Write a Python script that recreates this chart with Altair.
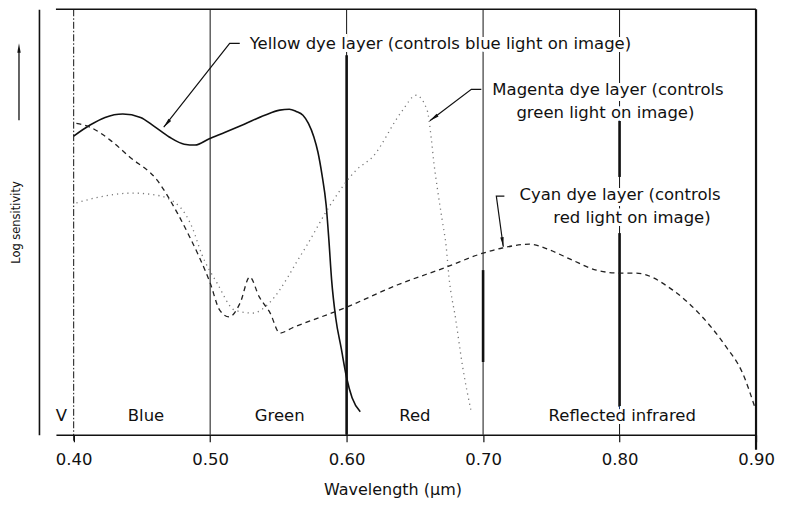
import altair as alt
import pandas as pd

FONT = "DejaVu Sans"
INK = "#111111"

# ---------------- data ----------------
tick_values = [0.40, 0.50, 0.60, 0.70, 0.80, 0.90]
boundaries = [0.50, 0.60, 0.70, 0.80]
violet_edge = [0.40]

band_labels = ["V", "Blue", "Green", "Red", "Reflected infrared"]
band_x = [0.391, 0.453, 0.551, 0.650, 0.802]
band_y = [4.5, 4.5, 4.5, 4.5, 4.5]

yellow_x = [0.400, 0.412, 0.423, 0.436, 0.449, 0.459, 0.470, 0.481, 0.489, 0.499,
            0.511, 0.525, 0.540, 0.551, 0.558, 0.563, 0.568, 0.572, 0.576, 0.579,
            0.582, 0.585, 0.587, 0.589, 0.592, 0.596, 0.600, 0.604, 0.610]
yellow_y = [70.2, 72.8, 74.6, 75.4, 74.6, 72.5, 70.0, 68.3, 68.1, 69.5,
            71.1, 73.0, 75.1, 76.3, 76.5, 76.0, 75.1, 73.2, 70.0, 66.4,
            61.0, 54.0, 45.8, 36.4, 27.5, 20.4, 13.4, 8.7, 5.4]

magenta_x = [0.402, 0.419, 0.443, 0.461, 0.478, 0.487, 0.494, 0.505, 0.518, 0.531,
             0.544, 0.557, 0.563, 0.571, 0.588, 0.607, 0.619, 0.640, 0.651, 0.659,
             0.662, 0.664, 0.667, 0.670, 0.673, 0.675, 0.680, 0.685, 0.691]
magenta_y = [54.5, 55.9, 56.8, 56.3, 53.5, 48.6, 42.3, 35.7, 29.3, 28.6,
             31.2, 37.1, 40.4, 44.6, 54.0, 62.2, 65.3, 75.8, 79.8, 76.3,
             69.7, 63.8, 56.8, 50.5, 44.1, 37.1, 27.0, 16.0, 5.9]

cyan_x = [0.402, 0.412, 0.427, 0.441, 0.461, 0.476, 0.485, 0.492, 0.500, 0.507,
          0.514, 0.522, 0.529, 0.536, 0.544, 0.551, 0.560, 0.600, 0.637, 0.673,
          0.700, 0.714, 0.734, 0.749, 0.765, 0.783, 0.800, 0.812, 0.839, 0.858,
          0.878, 0.890, 0.899]
cyan_y = [73.2, 72.3, 69.2, 65.3, 59.9, 52.1, 46.5, 41.8, 35.7, 29.3,
          27.7, 31.0, 37.1, 32.4, 28.6, 23.9, 25.1, 30.0, 35.2, 39.4,
          42.7, 43.9, 44.8, 43.4, 41.1, 38.7, 38.0, 38.0, 34.0, 28.6,
          20.7, 14.6, 6.6]

# annotation texts
note_text = ["Yellow dye layer (controls blue light on image)",
             "Magenta dye layer (controls", "green light on image)",
             "Cyan dye layer (controls", "red light on image)"]
note_x = [0.5290, 0.7068, 0.7244, 0.7266, 0.7514]
note_y = [91.8, 81.0, 75.6, 56.3, 50.9]

# leader lines (three points each) and arrow tips
leader_id = ["Y", "Y", "Y", "M", "M", "M", "C", "C", "C"]
leader_seq = [0, 1, 2, 0, 1, 2, 0, 1, 2]
leader_x = [0.5217, 0.5143, 0.4660, 0.6987, 0.6914, 0.6610, 0.7156, 0.7097, 0.7148]
leader_y = [92.0, 92.0, 72.3, 81.2, 81.2, 73.8, 56.1, 56.1, 44.2]
tip_x = [0.4660, 0.6610, 0.7148]
tip_y = [72.3, 73.8, 44.2]
tip_angle = [220, 234, 172]

# thicker pieces of the region boundary lines
thick_x = [0.60, 0.70, 0.80, 0.80]
thick_y1 = [89.2, 38.7, 73.9, 47.4]
thick_y2 = [0.0, 17.1, 60.6, 6.6]

# ---------------- scales / axes ----------------
x_scale = alt.Scale(domain=[0.387, 0.90], nice=False, zero=False)
y_scale = alt.Scale(domain=[0, 100], nice=False, zero=False)

x_axis = alt.Axis(values=tick_values, format=".2f", grid=False, labelFlush=False,
                  domainColor=INK, domainWidth=1.6, tickColor=INK, tickSize=7,
                  tickWidth=1.2, labelFont=FONT, labelFontSize=16.5, labelColor=INK,
                  labelPadding=10, title="Wavelength (μm)", titleFont=FONT,
                  titleFontSize=16, titleFontWeight="normal", titleColor=INK,
                  titleX=337, titleY=55, titleBaseline="middle", titleAlign="center")
y_axis = alt.Axis(offset=17, domain=True, domainColor=INK, domainWidth=1.6,
                  ticks=False, labels=False, grid=False, title="Log sensitivity",
                  titleFont=FONT, titleFontSize=11.5, titleFontWeight="normal",
                  titleColor=INK, titleX=-22, titleY=213, titleAngle=270,
                  titleBaseline="middle", titleAlign="center")


def X(field="x"):
    return alt.X(f"{field}:Q", scale=x_scale, axis=x_axis)


def Y(field="y"):
    return alt.Y(f"{field}:Q", scale=y_scale, axis=y_axis)


# ---------------- layers ----------------
frame_top = alt.Chart(pd.DataFrame({"x": [0.387], "x2": [0.90], "y": [100]})).mark_rule(
    color=INK, strokeWidth=1.6).encode(x=X(), x2="x2:Q", y=Y())
frame_right = alt.Chart(pd.DataFrame({"x": [0.90], "y": [100], "y2": [-3.5]})).mark_rule(
    color=INK, strokeWidth=2.2).encode(x=X(), y=Y(), y2="y2:Q")

edge40 = alt.Chart(pd.DataFrame({"x": violet_edge, "y": [100] * len(violet_edge),
                                 "y2": [-1.5] * len(violet_edge)})).mark_rule(
    color=INK, strokeWidth=1, strokeDash=[7, 2, 1.5, 2]).encode(x=X(), y=Y(), y2="y2:Q")
thin_lines = alt.Chart(pd.DataFrame({"x": boundaries, "y": [100] * len(boundaries),
                                     "y2": [0] * len(boundaries)})).mark_rule(
    color=INK, strokeWidth=1).encode(x=X(), y=Y(), y2="y2:Q")
thick_lines = alt.Chart(pd.DataFrame({"x": thick_x, "y": thick_y1, "y2": thick_y2})).mark_rule(
    color=INK, strokeWidth=2.6).encode(x=X(), y=Y(), y2="y2:Q")

notes_df = pd.DataFrame({"t": note_text, "x": note_x, "y": note_y})
notes_halo = alt.Chart(notes_df).mark_text(
    align="left", baseline="middle", font=FONT, fontSize=16.5, color="white",
    stroke="white", strokeWidth=6).encode(x=X(), y=Y(), text="t:N")
notes = alt.Chart(notes_df).mark_text(
    align="left", baseline="middle", font=FONT, fontSize=16.5, color=INK).encode(
    x=X(), y=Y(), text="t:N")

bands_df = pd.DataFrame({"t": band_labels, "x": band_x, "y": band_y})
bands_halo = alt.Chart(bands_df).mark_text(
    align="center", baseline="middle", font=FONT, fontSize=16.5, color="white",
    stroke="white", strokeWidth=6).encode(x=X(), y=Y(), text="t:N")
bands = alt.Chart(bands_df).mark_text(
    align="center", baseline="middle", font=FONT, fontSize=16.5, color=INK).encode(
    x=X(), y=Y(), text="t:N")

yellow = alt.Chart(pd.DataFrame({"x": yellow_x, "y": yellow_y})).mark_line(
    interpolate="monotone", color=INK, strokeWidth=1.6).encode(x=X(), y=Y())
magenta = alt.Chart(pd.DataFrame({"x": magenta_x, "y": magenta_y})).mark_line(
    interpolate="monotone", color="#777777", strokeWidth=1.3,
    strokeDash=[1.2, 4]).encode(x=X(), y=Y())
cyan = alt.Chart(pd.DataFrame({"x": cyan_x, "y": cyan_y})).mark_line(
    interpolate="monotone", color="#222222", strokeWidth=1.3,
    strokeDash=[5, 4]).encode(x=X(), y=Y())

leaders = alt.Chart(pd.DataFrame({"id": leader_id, "seq": leader_seq,
                                  "x": leader_x, "y": leader_y})).mark_line(
    color=INK, strokeWidth=1.2).encode(x=X(), y=Y(), detail="id:N", order="seq:Q")

ARROW = "M0,0L0.34,1.9L-0.34,1.9Z"
tips = alt.Chart(pd.DataFrame({"x": tip_x, "y": tip_y, "a": tip_angle})).mark_point(
    shape=ARROW, filled=True, size=100, color=INK, opacity=1).encode(
    x=X(), y=Y(), angle=alt.Angle("a:Q", scale=None))

# upward arrow beside the y-axis title
up_line = alt.Chart(pd.DataFrame({"y": [90.4], "y2": [73.9]})).mark_rule(
    color=INK, strokeWidth=1.3).encode(x=alt.value(-37), y=Y(), y2="y2:Q")
up_tip = alt.Chart(pd.DataFrame({"y": [92.0], "a": [0]})).mark_point(
    shape=ARROW, filled=True, size=100, color=INK, opacity=1).encode(
    x=alt.value(-37), y=Y(), angle=alt.Angle("a:Q", scale=None))

chart = alt.layer(
    yellow, edge40, thin_lines, thick_lines, frame_top, frame_right,
    notes_halo, bands_halo, notes, bands,
    magenta, cyan, leaders, tips, up_line, up_tip,
).properties(
    width=701, height=426,
    autosize=alt.AutoSizeParams(type="none"),
    padding={"left": 48, "top": 1, "right": 22, "bottom": 70},
    background="white",
).configure_view(stroke=None)

chart.save("out.html", embed_options={"renderer": "svg", "actions": False})
